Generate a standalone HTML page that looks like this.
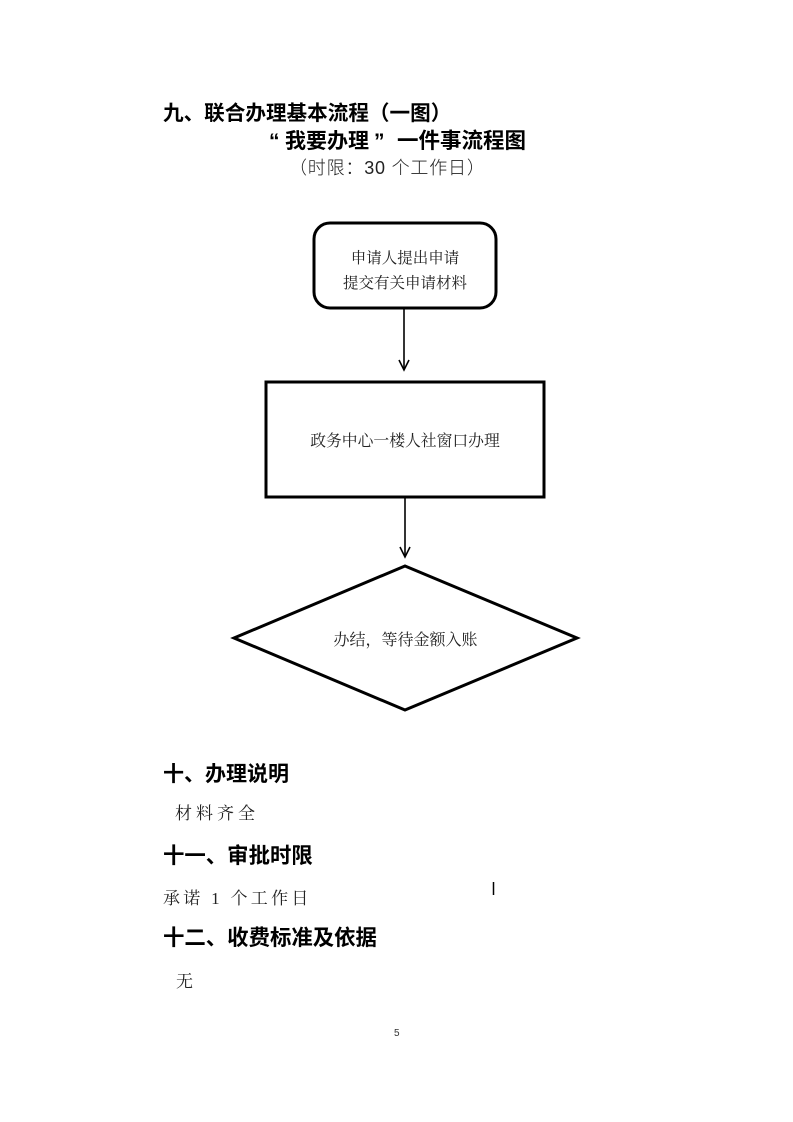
<!DOCTYPE html>
<html>
<head>
<meta charset="utf-8">
<style>
html,body{margin:0;padding:0;background:#fff;}
body{width:793px;height:1122px;position:relative;overflow:hidden;}
.t{position:absolute;white-space:nowrap;color:#000;}
.h{font-family:"Liberation Sans","Noto Sans CJK SC",sans-serif;font-weight:bold;font-size:21px;line-height:21px;}
.s{font-family:"Liberation Serif","Noto Serif CJK SC",serif;color:#222;}
.c{text-align:center;}
</style>
</head>
<body>
<svg width="793" height="1122" style="position:absolute;left:0;top:0" xmlns="http://www.w3.org/2000/svg">
  <rect x="314" y="223" width="182" height="85" rx="16" ry="16" fill="none" stroke="#000" stroke-width="3"/>
  <line x1="404" y1="309" x2="404" y2="369" stroke="#000" stroke-width="1.6"/>
  <polyline points="399,360 404,370 409,360" fill="none" stroke="#000" stroke-width="1.6"/>
  <rect x="266" y="382" width="278" height="115" fill="none" stroke="#000" stroke-width="3"/>
  <line x1="405" y1="498" x2="405" y2="556" stroke="#000" stroke-width="1.6"/>
  <polyline points="400,547 405,557 410,547" fill="none" stroke="#000" stroke-width="1.6"/>
  <polygon points="405,566 577,638 405,710 234,638" fill="none" stroke="#000" stroke-width="3" stroke-linejoin="miter"/>
  <line x1="493.5" y1="882" x2="493.5" y2="895" stroke="#000" stroke-width="1.5"/>
</svg>

<div class="t h" style="left:163px;top:103px;font-size:20.6px;">九、联合办理基本流程（一图）</div>

<div class="t h" style="left:269px;top:131px;">“</div>
<div class="t h" style="left:285px;top:131px;">我要办理</div>
<div class="t h" style="left:374px;top:131px;">”</div>
<div class="t h" style="left:397px;top:131px;font-size:21.5px;">一件事流程图</div>

<div class="t" style="left:289px;top:159px;font-family:'Liberation Sans','Noto Sans CJK SC',sans-serif;font-size:18px;line-height:18px;letter-spacing:0.8px;color:#222;font-weight:300;">（时限：30 个工作日）</div>

<div class="t s c" style="left:314px;width:182px;top:251px;font-size:15.5px;line-height:16px;">申请人提出申请</div>
<div class="t s c" style="left:314px;width:182px;top:276px;font-size:15.5px;line-height:16px;">提交有关申请材料</div>

<div class="t s c" style="left:266px;width:278px;top:434px;font-size:15.8px;line-height:16px;">政务中心一楼人社窗口办理</div>

<div class="t s c" style="left:234px;width:343px;top:633px;font-size:16px;line-height:16px;">办结，等待金额入账</div>

<div class="t h" style="left:163px;top:764px;">十、办理说明</div>
<div class="t s" style="left:175px;top:805px;font-size:17px;line-height:17px;letter-spacing:4px;">材料齐全</div>

<div class="t h" style="left:163px;top:846px;font-size:21.4px;">十一、审批时限</div>
<div class="t s" style="left:163px;top:890px;font-size:17px;line-height:17px;letter-spacing:3.3px;">承诺 1 个工作日</div>

<div class="t h" style="left:163px;top:928px;font-size:21.4px;">十二、收费标准及依据</div>
<div class="t s" style="left:176px;top:973px;font-size:17px;line-height:17px;">无</div>

<div class="t" style="left:394px;top:1029px;font-family:'Liberation Sans',sans-serif;font-size:10px;line-height:10px;color:#333;">5</div>
</body>
</html>
